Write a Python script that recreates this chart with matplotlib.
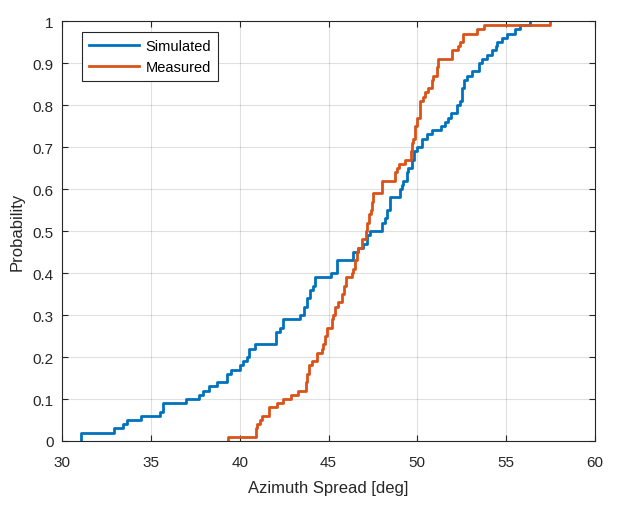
import matplotlib
matplotlib.use("Agg")
import matplotlib.pyplot as plt
import numpy as np

# step positions (deg) and cumulative counts out of 100
sim_x = [31.05, 32.93, 33.41, 33.64, 34.43, 35.51, 35.70, 36.98, 37.73, 37.95,
         38.25, 38.70, 39.27, 39.53, 40.02, 40.17, 40.39, 40.54, 40.86, 42.04,
         42.27, 42.45, 43.39, 43.62, 43.77, 43.96, 44.14, 44.24, 45.14, 45.46,
         46.39, 46.68, 46.96, 47.15, 47.33, 47.99, 48.18, 48.31, 48.46, 49.02,
         49.12, 49.21, 49.40, 49.49, 49.68, 49.81, 49.96, 50.24, 50.52, 50.80,
         51.31, 51.55, 51.74, 51.87, 52.25, 52.40, 52.49, 52.60, 52.81, 53.05,
         53.48, 53.62, 53.90, 54.18, 54.42, 54.50, 54.74, 55.03, 55.49, 55.77,
         56.34]
sim_n = [2, 3, 4, 5, 6, 7, 9, 10, 11, 12,
         13, 14, 16, 17, 18, 19, 20, 22, 23, 26,
         27, 29, 30, 32, 34, 36, 37, 39, 40, 43,
         45, 46, 47, 49, 50, 52, 53, 55, 58, 60,
         61, 62, 64, 65, 67, 69, 70, 72, 73, 74,
         75, 76, 77, 78, 80, 81, 84, 86, 87, 88,
         90, 91, 92, 93, 94, 95, 96, 97, 98, 99,
         100]

meas_x = [39.36, 40.90, 40.99, 41.14, 41.24, 41.67, 42.08, 42.46, 42.89, 43.30,
          43.73, 43.81, 43.92, 44.05, 44.37, 44.61, 44.71, 44.80, 44.89, 45.18,
          45.27, 45.36, 45.55, 45.74, 45.89, 45.98, 46.30, 46.39, 46.49, 46.58,
          46.68, 46.86, 47.11, 47.18, 47.28, 47.37, 47.46, 47.52, 47.99, 48.74,
          48.87, 48.96, 49.30, 49.62, 49.71, 49.77, 49.87, 49.96, 50.15, 50.33,
          50.43, 50.61, 50.80, 50.89, 51.08, 51.18, 51.93, 52.30, 52.40, 52.58,
          53.37, 53.75, 57.47]
meas_n = [1, 3, 4, 5, 6, 8, 9, 10, 11, 12,
          14, 16, 18, 19, 21, 22, 23, 25, 27, 29,
          30, 32, 33, 35, 37, 39, 40, 41, 43, 45,
          46, 48, 50, 52, 54, 55, 57, 59, 62, 64,
          65, 66, 67, 69, 71, 72, 75, 77, 81, 82,
          83, 84, 86, 87, 89, 91, 93, 94, 95, 97,
          98, 99, 100]

blue = "#0072BD"
orange = "#D95319"
plt.rcParams['font.family'] = ['Liberation Sans', 'DejaVu Sans']

fig = plt.figure(figsize=(6.36, 5.10), dpi=100)
ax = fig.add_axes([62/636, 68/510, 533/636, 420/510])

def ecdf_line(xs, ns):
    x = np.concatenate([[xs[0]], xs])
    y = np.concatenate([[0], np.array(ns) / 100.0])
    return x, y

x1, y1 = ecdf_line(sim_x, sim_n)
x2, y2 = ecdf_line(meas_x, meas_n)
ax.step(x1, y1, where='post', color=blue, lw=2.0, label='Simulated')
ax.step(x2, y2, where='post', color=orange, lw=2.0, label='Measured')

ax.set_xlim(30, 60)
ax.set_ylim(0, 1)
ax.set_xticks(np.arange(30, 61, 5))
yt = np.round(np.arange(0, 1.01, 0.1), 1)
ax.set_yticks(yt)
ax.set_yticklabels(['0' if v == 0 else ('1' if v == 1 else f'{v:g}') for v in yt])
ax.grid(True, color='#000000', alpha=0.12, lw=0.8)
ax.tick_params(direction='in', top=True, right=True, labelsize=11,
               colors='#262626', length=4, width=0.8)
ax.tick_params(axis='x', pad=10)
ax.tick_params(axis='y', pad=6)
for s in ax.spines.values():
    s.set_color('#262626')
    s.set_linewidth(0.8)
ax.set_xlabel('Azimuth Spread [deg]', fontsize=12, color='#262626', labelpad=8)
ax.set_ylabel('Probability', fontsize=12, color='#262626', labelpad=6)

leg = ax.legend(loc='upper left', bbox_to_anchor=(0.0375, 0.974), borderaxespad=0,
                fontsize=10.5, handlelength=3.4, fancybox=False, framealpha=1,
                edgecolor='#262626', borderpad=0.5, labelspacing=0.45,
                handletextpad=0.45)
leg.get_frame().set_linewidth(0.8)

fig.savefig('out.png', dpi=100)
